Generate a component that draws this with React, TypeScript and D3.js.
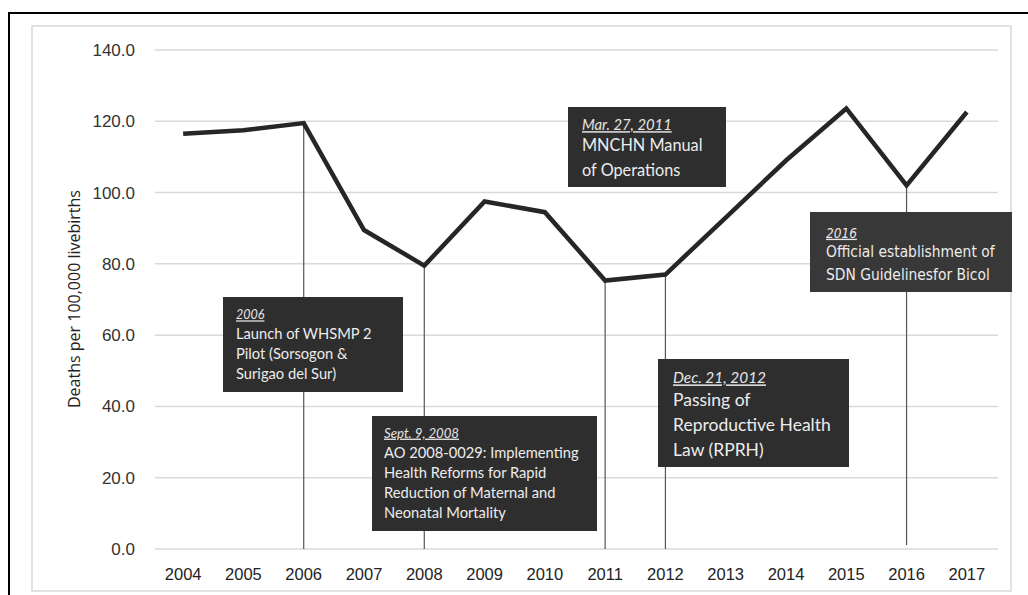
import React from "react";
import * as d3 from "d3";

const years = ["2004","2005","2006","2007","2008","2009","2010","2011","2012","2013","2014","2015","2016","2017"];
const deaths = [116.5, 117.5, 119.5, 89.5, 79.5, 97.5, 94.5, 75.3, 77.0, 93.0, 109.0, 123.6, 102.0, 122.6];
const yTicks = [0, 20, 40, 60, 80, 100, 120, 140];
const yTitle = "Deaths per 100,000 livebirths";

const eventYears = ["2006", "2008", "2011", "2012", "2016"];
const eventDates = ["2006", "Sept. 9, 2008", "Mar. 27, 2011", "Dec. 21, 2012", "2016"];
const eventTexts = [
  ["Launch of WHSMP 2", "Pilot (Sorsogon &", "Surigao del Sur)"],
  ["AO 2008-0029: Implementing", "Health Reforms for Rapid", "Reduction of Maternal and", "Neonatal Mortality"],
  ["MNCHN Manual", "of Operations"],
  ["Passing of", "Reproductive Health", "Law (RPRH)"],
  ["Official establishment of", "SDN Guidelinesfor Bicol"],
];

// box layout (position / style only)
const boxLayout = [
  { x: 223, y: 297, w: 180, h: 95, fs: 14.7, dfs: 12.5, gap: 19, lh: 20, top: 18, pad: 13, fill: "#2e2e2e", font: "Lato", lineEnd: 0 },
  { x: 372, y: 416, w: 225, h: 115, fs: 14.7, dfs: 13.2, gap: 20, lh: 20, top: 17, pad: 12, fill: "#2e2e2e", font: "Lato", lineEnd: 0 },
  { x: 568, y: 107, w: 158, h: 80, fs: 16.3, dfs: 14.8, gap: 20, lh: 25, top: 18, pad: 14, fill: "#2e2e2e", font: "Lato", lineEnd: 0 },
  { x: 658, y: 359, w: 191, h: 108, fs: 17.5, dfs: 15.4, gap: 22, lh: 25, top: 19, pad: 15, fill: "#2e2e2e", font: "Lato", lineEnd: 0 },
  { x: 810, y: 212, w: 202, h: 80, fs: 15.4, dfs: 13.5, gap: 19, lh: 23, top: 21, pad: 16, fill: "#383838", font: "DejaVu Sans Condensed, DejaVu Sans", lineEnd: 4 },
];

export default function App() {
  const x = d3.scaleBand<string>().domain(years).range([153, 997]).paddingInner(0).paddingOuter(0);
  const cx = (yr: string) => (x(yr) as number) + x.bandwidth() / 2;
  const y = d3.scaleLinear().domain([0, 140]).range([549, 50]);

  const line = d3.line<number>().x((_, i) => cx(years[i])).y((d) => y(d));

  return (
    <svg width={1028} height={595} style={{ position: "absolute", left: 0, top: 0, background: "#fff" }}>
      {/* frames */}
      <rect x={32} y={26} width={979} height={565} fill="none" stroke="#d9d9d9" strokeWidth={1.5} />
      <line x1={8} y1={13} x2={1028} y2={13} stroke="#000" strokeWidth={2} />
      <line x1={9} y1={12} x2={9} y2={595} stroke="#000" strokeWidth={2} />

      {/* gridlines */}
      {yTicks.map((t) => (
        <line key={t} x1={155} x2={998} y1={y(t)} y2={y(t)} stroke="#d9d9d9" strokeWidth={1.5} />
      ))}
      {/* y tick labels */}
      {yTicks.map((t) => (
        <text key={"l" + t} x={135} y={y(t)} dy="0.35em" textAnchor="end" fontFamily="Liberation Sans, Arial" fontSize={17} fill="#333">
          {t.toFixed(1)}
        </text>
      ))}
      {/* x labels */}
      {years.map((yr) => (
        <text key={yr} x={cx(yr)} y={574} dy="0.35em" textAnchor="middle" fontFamily="Liberation Sans, Arial" fontSize={16.5} fill="#222">
          {yr}
        </text>
      ))}
      {/* y title */}
      <text transform={`translate(80,299) rotate(-90)`} textAnchor="middle" fontFamily="Open Sans" fontSize={16} fill="#222">
        {yTitle}
      </text>

      {/* event lines */}
      {eventYears.map((yr, i) => {
        const v = deaths[years.indexOf(yr)];
        return (
          <line key={"e" + yr} x1={cx(yr)} x2={cx(yr)} y1={y(v)} y2={y(0) - boxLayout[i].lineEnd} stroke="#555" strokeWidth={1.2} />
        );
      })}

      {/* data line */}
      <path d={line(deaths) || ""} fill="none" stroke="#262626" strokeWidth={4.5} strokeLinejoin="miter" />

      {/* annotation boxes */}
      {eventYears.map((yr, i) => {
        const b = boxLayout[i];
        return (
          <g key={"b" + yr}>
            <rect x={b.x} y={b.y} width={b.w} height={b.h} fill={b.fill} />
            <text x={b.x + b.pad} y={b.y + b.top} dy="0.35em" fontFamily={b.font} fontSize={b.dfs} fontStyle="italic" fill="#e6e6e6" textDecoration="underline">
              {eventDates[i]}
            </text>
            {eventTexts[i].map((t, j) => (
              <text key={j} x={b.x + b.pad} y={b.y + b.top + b.gap + b.lh * j} dy="0.35em" fontFamily={b.font} fontSize={b.fs} fill="#ececec">
                {t}
              </text>
            ))}
          </g>
        );
      })}
    </svg>
  );
}
